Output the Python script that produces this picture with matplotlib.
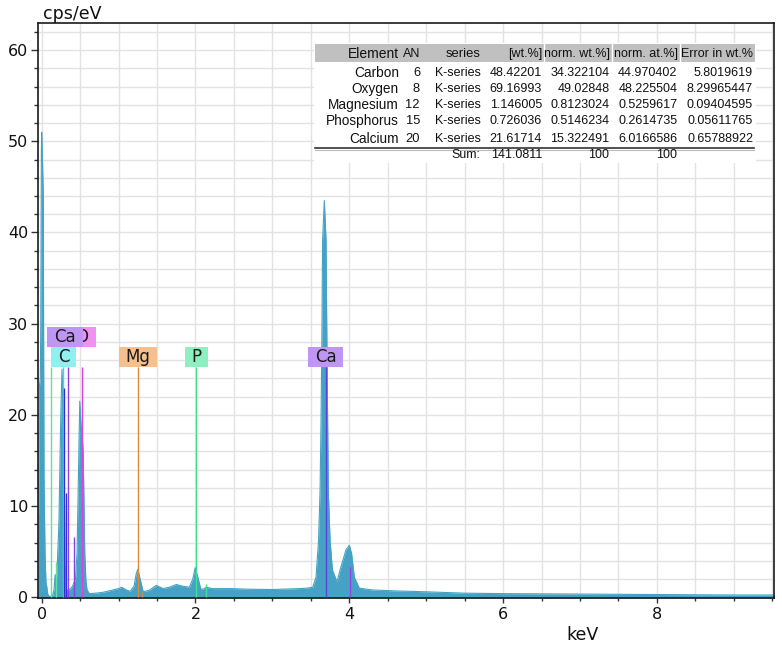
import matplotlib
matplotlib.use('Agg')
import matplotlib.pyplot as plt
from matplotlib.patches import Rectangle
from matplotlib.ticker import MultipleLocator

# ---------------- spectrum ----------------
energy_kev = [-0.052, -0.04, -0.031, -0.018, -0.012, -0.004, 0.0, 0.01, 0.021, 0.026, 0.03,
              0.043, 0.056, 0.065, 0.08, 0.10, 0.14, 0.16, 0.175, 0.19, 0.205, 0.225, 0.247,
              0.264, 0.286, 0.303, 0.32, 0.36, 0.40, 0.44, 0.46, 0.475, 0.495, 0.51, 0.525,
              0.54, 0.56, 0.575, 0.59, 0.62, 0.70, 0.80, 0.90, 1.00, 1.04, 1.10, 1.15, 1.20,
              1.23, 1.25, 1.28, 1.32, 1.40, 1.49, 1.58, 1.66, 1.75, 1.84, 1.92, 1.965, 1.996,
              2.03, 2.07, 2.10, 2.14, 2.22, 2.48, 2.70, 3.00, 3.35, 3.45, 3.524, 3.567, 3.60,
              3.62, 3.632, 3.645, 3.653, 3.675, 3.697, 3.71, 3.727, 3.75, 3.78, 3.84, 3.89,
              3.957, 4.00, 4.03, 4.065, 4.13, 4.30, 4.60, 5.00, 5.50, 6.00, 7.00, 8.00, 9.00,
              9.53]
counts_cps = [9.2, 9.2, 23.0, 24.0, 30.0, 49.0, 51.0, 48.0, 43.5, 25.0, 13.2,
              4.8, 1.5, 1.2, 0.3, 0.1, 0.1, 0.8, 2.5, 1.5, 4.0, 8.4, 19.4,
              25.0, 20.5, 3.7, 0.8, 0.8, 1.2, 2.0, 5.0, 12.0, 21.5, 19.0, 18.0,
              15.8, 4.8, 1.8, 0.8, 0.4, 0.45, 0.55, 0.75, 0.95, 1.1, 0.8, 0.66, 1.2,
              2.6, 3.07, 2.0, 0.6, 0.77, 1.3, 0.95, 1.1, 1.4, 1.2, 1.1, 2.0, 3.25,
              2.2, 0.85, 0.9, 1.1, 0.95, 0.95, 0.88, 0.85, 0.95, 1.0, 1.1, 2.2, 6.2,
              11.7, 19.0, 30.0, 39.2, 43.5, 39.2, 26.5, 11.7, 6.2, 3.0, 1.7, 3.3,
              5.2, 5.7, 4.8, 2.2, 1.0, 0.8, 0.7, 0.6, 0.45, 0.4, 0.35, 0.3, 0.25,
              0.25]

# ---------------- element marker lines ----------------
line_kev = [0.117, 0.183, 0.277, 0.290, 0.311, 0.341, 0.416, 0.525, 1.254, 1.302,
            2.013, 2.139, 3.691, 4.012]
line_height = [25.3, 3.9, 25.3, 23.0, 11.4, 25.3, 6.6, 25.3, 25.3, 0.6,
               25.3, 1.5, 25.3, 3.3]
line_color = ['#5FE0A0', '#5FE0A0', '#40D8E8', '#3030D8', '#3030D8', '#8A3FE0',
              '#8A3FE0', '#E040E0', '#E08A3A', '#E08A3A', '#40E090', '#40E090',
              '#6040E0', '#9A40E0']

# ---------------- element labels (drawn in this order) ----------------
label_text = ['O', 'Ca', 'C', 'Mg', 'P', 'Ca']
label_kev = [0.525, 0.303, 0.283, 1.254, 2.013, 3.691]
label_row = [1, 1, 0, 0, 0, 0]
label_color = ['#F090F0', '#C096F5', '#90F0F0', '#F5BF8E', '#8EF0C0', '#C096F5']
label_width_px = [27, 36, 25, 38, 23, 35]

# ---------------- results table ----------------
table_header = ['Element', 'AN', 'series', '[wt.%]', 'norm. wt.%]', 'norm. at.%]', 'Error in wt.%']
table_element = ['Carbon', 'Oxygen', 'Magnesium', 'Phosphorus', 'Calcium']
table_an = ['6', '8', '12', '15', '20']
table_series = ['K-series', 'K-series', 'K-series', 'K-series', 'K-series']
table_wt = ['48.42201', '69.16993', '1.146005', '0.726036', '21.61714']
table_norm_wt = ['34.322104', '49.02848', '0.8123024', '0.5146234', '15.322491']
table_norm_at = ['44.970402', '48.225504', '0.5259617', '0.2614735', '6.0166586']
table_error = ['5.8019619', '8.29965447', '0.09404595', '0.05611765', '0.65788922']
table_sum = ['', '', 'Sum:', '141.0811', '100', '100', '']

# ---------------- figure ----------------
W, H = 782, 648
fig = plt.figure(figsize=(W / 100, H / 100), dpi=100)
fig.patch.set_facecolor('white')

def fx(x):
    return x / W

def fy(y):
    return 1 - y / H

ax = fig.add_axes([fx(38), 50 / H, 736 / W, 575 / H])
PX_X = 76.9   # px per keV
PX_Y = 9.12   # px per cps
ax.set_xlim(-0.048, -0.048 + 736 / PX_X)
ax.set_ylim(-0.08, -0.08 + 575 / PX_Y)

ax.xaxis.set_major_locator(MultipleLocator(2))
ax.xaxis.set_minor_locator(MultipleLocator(0.5))
ax.yaxis.set_major_locator(MultipleLocator(10))
ax.yaxis.set_minor_locator(MultipleLocator(2))
ax.grid(which='both', color='#E3E3E3', lw=1.0, zorder=0)
ax.set_axisbelow(True)

for s in ax.spines.values():
    s.set_color('#1a1a1a')
    s.set_linewidth(1.2)

ax.tick_params(axis='y', which='major', length=5, width=1, color='#333333',
               labelsize=11.5, pad=2, labelcolor='#111111')
ax.tick_params(axis='y', which='minor', length=3.2, width=1, color='#333333')
ax.tick_params(axis='x', which='major', length=3.6, width=1, color='#333333',
               labelsize=11.5, pad=3, labelcolor='#111111')
ax.tick_params(axis='x', which='minor', length=2.2, width=1, color='#333333')

# spectrum
ax.fill_between(energy_kev, counts_cps, -0.08, color='#46A2C4', lw=0, zorder=2)
ax.plot(energy_kev, counts_cps, color='#46A2C4', lw=0.8, zorder=2)

# element lines
for e, h, c in zip(line_kev, line_height, line_color):
    ax.plot([e, e], [0, h], color=c, lw=1.0, zorder=3, solid_capstyle='butt')

# labels (later labels drawn on top of earlier ones)
box_h = 20 / PX_Y
base_y = 25.28
for i, (t, e, r, c, wpx) in enumerate(zip(label_text, label_kev, label_row,
                                           label_color, label_width_px)):
    w = wpx / PX_X
    y0 = base_y + r * box_h
    z = 4 + 2 * i
    ax.add_patch(Rectangle((e - w / 2, y0), w, box_h, facecolor=c, edgecolor='none', zorder=z))
    ax.text(e, y0 + box_h / 2, t, ha='center', va='center', fontsize=12,
            color='#1a1a1a', zorder=z + 1, clip_on=True)

# axis titles
fig.text(fx(43), fy(19), 'cps/eV', ha='left', va='baseline', fontsize=12.5, color='#111111')
fig.text(fx(583), fy(640), 'keV', ha='center', va='baseline', fontsize=12.5, color='#111111')

# table
fig.patches.append(Rectangle((fx(314), fy(163)), (756 - 314) / W, (163 - 43) / H,
                             transform=fig.transFigure, facecolor='white', edgecolor='none',
                             zorder=20))
fig.patches.append(Rectangle((fx(315), fy(62)), (755 - 315) / W, (62 - 44) / H,
                             transform=fig.transFigure, facecolor='#C0C0C0', edgecolor='none',
                             zorder=21))
for xs in [543.5, 611.8, 680]:
    fig.lines.append(plt.Line2D([fx(xs), fx(xs)], [fy(44), fy(62)], transform=fig.transFigure,
                                color='white', lw=1.0, zorder=22))
fig.lines.append(plt.Line2D([fx(315), fx(754)], [fy(147.8), fy(147.8)],
                            transform=fig.transFigure, color='#333333', lw=1.2, zorder=22))
fig.lines.append(plt.Line2D([fx(315), fx(754)], [fy(149.5), fy(149.5)],
                            transform=fig.transFigure, color='#BBBBBB', lw=0.8, zorder=22))

col_right = [399, 420, 480.7, 542, 609.5, 677.5, 753]
col_size = [9.8, 9.3, 9, 9, 9, 9, 9]
tfont = dict(family='Liberation Sans', color='#111111', ha='right', va='center', zorder=23)
header_size = [10, 9, 9.4, 9, 9, 9, 9]
for x, t, fs in zip(col_right, table_header, header_size):
    fig.text(fx(x), fy(54), t, fontsize=fs, **tfont)
row_y = [72.7, 88.9, 105.0, 121.5, 138.6]
columns = [table_element, table_an, table_series, table_wt, table_norm_wt,
           table_norm_at, table_error]
for i, y in enumerate(row_y):
    for x, col, fs in zip(col_right, columns, col_size):
        fig.text(fx(x), fy(y), col[i], fontsize=fs, **tfont)
for x, t in zip(col_right, table_sum):
    if t:
        fig.text(fx(x), fy(155.5), t, fontsize=9, **tfont)

fig.savefig('out.png', dpi=100, facecolor='white')
